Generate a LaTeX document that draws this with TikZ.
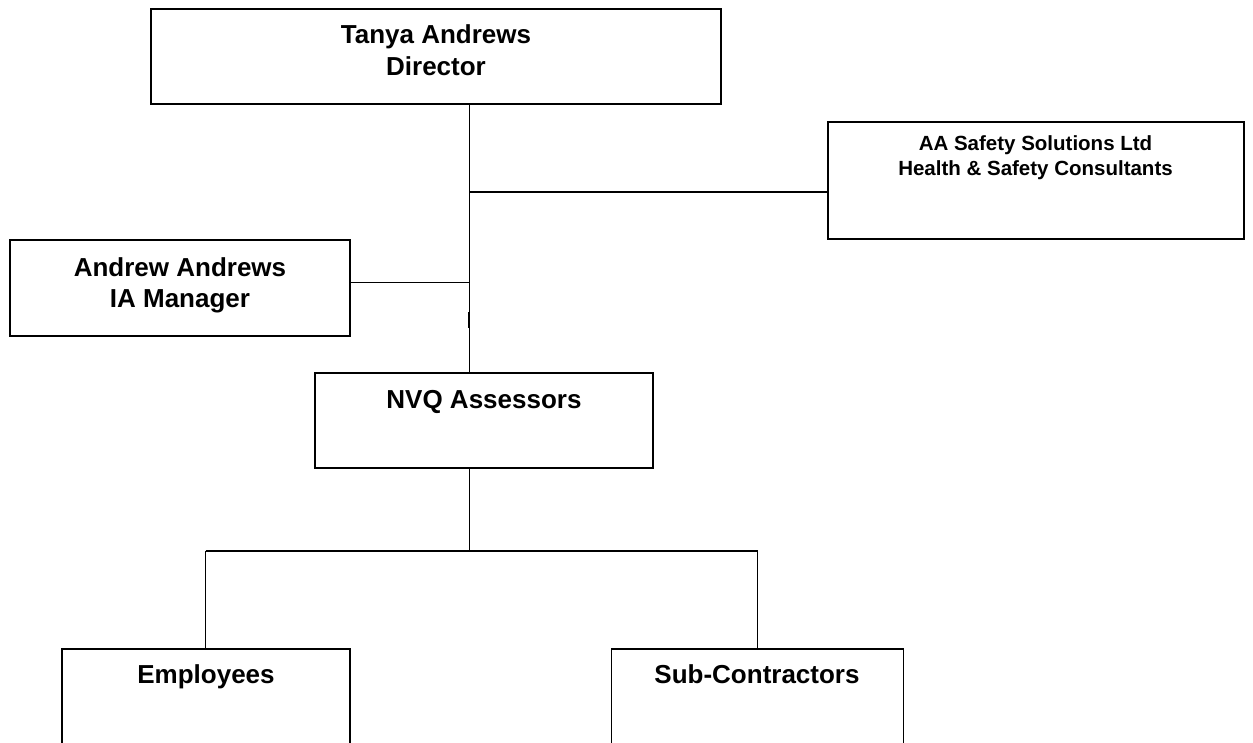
\documentclass[tikz,border=0pt]{standalone}
\usepackage{fontspec}
\setmainfont{Liberation Sans}
\begin{document}
\begin{tikzpicture}[x=1pt,y=-1pt,
  box/.style={draw, line width=1.8pt, inner sep=0pt},
  txt/.style={align=center, inner sep=0pt, font=\bfseries\fontsize{26}{31}\selectfont},
  conn/.style={line width=1.5pt},
  hconn/.style={line width=1.9pt}]
\useasboundingbox (0,0) rectangle (1253,742);
\clip (0,0) rectangle (1253,742);
% boxes
\node[box, minimum width=570pt, minimum height=95pt] (tanya) at (436,56.5) {};
\node[box, minimum width=416pt, minimum height=117pt] (aa) at (1036,180.5) {};
\node[box, minimum width=340pt, minimum height=96pt] (andrew) at (180,288) {};
\node[box, minimum width=338pt, minimum height=95pt] (nvq) at (484,420.5) {};
\node[box, minimum width=288pt, minimum height=110pt] (emp) at (206,704) {};
\node[box, minimum width=292pt, minimum height=110pt] (sub) at (757.5,704) {};
% texts
\node[txt, anchor=north, font=\bfseries\fontsize{26}{31.7}\selectfont] (tanyaT) at (436,24.7) {Tanya Andrews\\Director};
\node[txt, anchor=north, font=\bfseries\fontsize{20.5}{25}\selectfont] (aaT) at (1035.5,135.3) {AA Safety Solutions Ltd\\Health \& Safety Consultants};
\node[txt, anchor=north, font=\bfseries\fontsize{26}{30.7}\selectfont] (andrewT) at (180,257.4) {Andrew Andrews\\IA Manager};
\node[txt, anchor=base] (nvqT) at (484,408) {NVQ Assessors};
\node[txt, anchor=base] (empT) at (206,683) {Employees};
\node[txt, anchor=base] (subT) at (757,683) {Sub-Contractors};
% connectors
\coordinate (j0) at (469.5,0);
\coordinate (j1) at (469.5,191.7);
\coordinate (j2) at (469.5,282.7);
\coordinate (j3) at (469.5,550.7);
\coordinate (ej) at (205.5,550.7);
\coordinate (sj) at (757.5,550.7);
\coordinate (k1) at (469.1,312);
\coordinate (k2) at (469.1,328);
\draw[conn] (tanya.south -| j0) -- (nvq.north -| j0);
\draw[hconn] (j1) -- (j1 -| aa.west);
\draw[conn] (andrew.east |- j2) -- (j2);
\draw[line width=2.3pt] (k1) -- (k2);
\draw[conn] (nvq.south -| j0) -- (j3);
\draw[hconn] (ej) -- (sj);
\draw[conn] (emp.north -| ej) -- (ej);
\draw[conn] (sj) -- (sub.north -| sj);
\end{tikzpicture}
\end{document}
